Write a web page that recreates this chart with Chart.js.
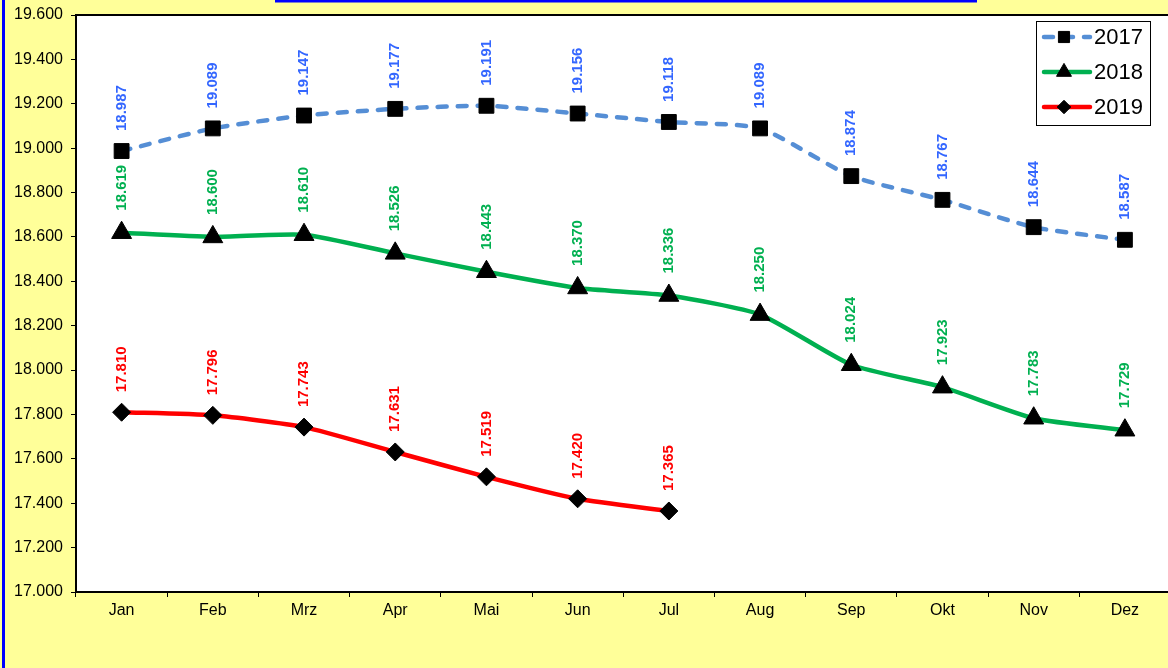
<!DOCTYPE html>
<html>
<head>
<meta charset="utf-8">
<script src="https://cdn.jsdelivr.net/npm/chart.js@4.4.1/dist/chart.umd.min.js"></script>
<style>
  html, body { margin: 0; padding: 0; background: #FFFF99; overflow: hidden; }
  #wrap { width: 1168px; height: 668px; overflow: hidden; position: relative; }
</style>
</head>
<body>
<div id="wrap">
  <canvas id="line-chart" width="1183" height="668"></canvas>
</div>
<script>
// Chart data
var months = ["Jan", "Feb", "Mrz", "Apr", "Mai", "Jun", "Jul", "Aug", "Sep", "Okt", "Nov", "Dez"];
var values2017 = [18.987, 19.089, 19.147, 19.177, 19.191, 19.156, 19.118, 19.089, 18.874, 18.767, 18.644, 18.587];
var values2018 = [18.619, 18.600, 18.610, 18.526, 18.443, 18.370, 18.336, 18.250, 18.024, 17.923, 17.783, 17.729];
var values2019 = [17.810, 17.796, 17.743, 17.631, 17.519, 17.420, 17.365, null, null, null, null, null];
var yMin = 17.0;
var yMax = 19.6;
var yStep = 0.2;

var FONT = "Arial, 'Liberation Sans', sans-serif";

// background, plot frame and page decoration
var framePlugin = {
    id: 'frame',
    beforeDraw: function(chart) {
        var ctx = chart.ctx, a = chart.chartArea;
        ctx.save();
        ctx.fillStyle = "#FFFF99";
        ctx.fillRect(0, 0, chart.width, chart.height);
        ctx.fillStyle = "#FFFFFF";
        ctx.fillRect(a.left, a.top, a.right - a.left, a.bottom - a.top);
        ctx.restore();
    },
    afterDraw: function(chart) {
        var ctx = chart.ctx, a = chart.chartArea;
        ctx.save();
        ctx.strokeStyle = "#000";
        ctx.lineWidth = 2;
        ctx.beginPath();
        ctx.moveTo(a.left, a.top);
        ctx.lineTo(a.right, a.top);
        ctx.lineTo(a.right, a.bottom);
        ctx.stroke();
        // blue edges of the surrounding boxes
        ctx.fillStyle = "#0000FF";
        ctx.fillRect(2, 0, 3, chart.height);
        ctx.fillRect(275, 0, 702, 2.5);
        ctx.restore();
    }
};

// rotated value labels above the points
var labelPlugin = {
    id: 'valueLabels',
    afterDatasetsDraw: function(chart) {
        var ctx = chart.ctx;
        ctx.save();
        ctx.font = "bold 15px " + FONT;
        ctx.textAlign = "left";
        ctx.textBaseline = "middle";
        chart.data.datasets.forEach(function(ds, i) {
            var meta = chart.getDatasetMeta(i);
            meta.data.forEach(function(pt, j) {
                var v = ds.data[j];
                if (v === null || v === undefined) return;
                ctx.save();
                ctx.translate(pt.x, pt.y - ds.labelOffset);
                ctx.rotate(-Math.PI / 2);
                ctx.fillStyle = ds.labelColor;
                ctx.fillText(v.toFixed(3), 0, 0);
                ctx.restore();
            });
        });
        ctx.restore();
    }
};

// legend box in the top right corner of the plot
var legendPlugin = {
    id: 'boxLegend',
    afterDraw: function(chart) {
        var ctx = chart.ctx;
        var left = 1036, top = 21;
        var right = left + 114, bottom = top + 104;
        ctx.save();
        ctx.fillStyle = "#fff";
        ctx.fillRect(left, top, right - left, bottom - top);
        ctx.strokeStyle = "#000";
        ctx.lineWidth = 1;
        ctx.strokeRect(left + 0.5, top + 0.5, right - left, bottom - top);
        chart.data.datasets.forEach(function(ds, i) {
            var y = top + 16 + i * 35;
            ctx.save();
            ctx.strokeStyle = ds.borderColor;
            ctx.lineWidth = ds.borderWidth;
            ctx.lineCap = "round";
            ctx.setLineDash(ds.borderDash || []);
            ctx.beginPath();
            ctx.moveTo(left + 8, y);
            ctx.lineTo(left + 54, y);
            ctx.stroke();
            ctx.restore();
            ctx.fillStyle = "#000";
            ctx.strokeStyle = "#000";
            Chart.helpers.drawPoint(ctx, {
                pointStyle: ds.pointStyle,
                radius: ds.pointRadius * 0.75,
                rotation: 0,
                borderWidth: 1
            }, left + 28, y);
            ctx.fillStyle = "#000";
            ctx.font = "22px " + FONT;
            ctx.textAlign = "left";
            ctx.textBaseline = "middle";
            ctx.fillText(ds.label, left + 58, y + 1);
        });
        ctx.restore();
    }
};

var chartData = {
    labels: months,
    datasets: [{
        label: "2017",
        data: values2017,
        borderColor: "#558ED5",
        borderWidth: 4.5,
        borderDash: [9, 11],
        borderCapStyle: "round",
        pointStyle: "rect",
        pointRadius: 10.5,
        pointBackgroundColor: "#000",
        pointBorderColor: "#000",
        pointBorderWidth: 1,
        labelColor: "#3366FF",
        labelOffset: 20
    }, {
        label: "2018",
        data: values2018,
        borderColor: "#00B050",
        borderWidth: 4.5,
        pointStyle: "triangle",
        pointRadius: 11.5,
        pointBackgroundColor: "#000",
        pointBorderColor: "#000",
        pointBorderWidth: 1,
        labelColor: "#00B050",
        labelOffset: 22
    }, {
        label: "2019",
        data: values2019,
        borderColor: "#FF0000",
        borderWidth: 4.5,
        pointStyle: "rectRot",
        pointRadius: 9,
        pointBackgroundColor: "#000",
        pointBorderColor: "#000",
        pointBorderWidth: 1,
        labelColor: "#FF0000",
        labelOffset: 20
    }]
};

var chartOptions = {
    responsive: false,
    animation: false,
    layout: { padding: { top: 15, right: 0, left: 0, bottom: 0 } },
    elements: { line: { tension: 0.2 } },
    plugins: {
        legend: { display: false },
        title: { display: false },
        tooltip: { enabled: false }
    },
    scales: {
        x: {
            offset: true,
            grid: { display: true, drawOnChartArea: false, offset: true, tickLength: 5, color: "#000", lineWidth: 1 },
            border: { display: true, color: "#000", width: 2 },
            ticks: { color: "#000", font: { family: FONT, size: 16 }, padding: 4, maxRotation: 0 },
            afterFit: function(scale) { scale.height = 76; }
        },
        y: {
            min: yMin,
            max: yMax,
            grid: { display: true, drawOnChartArea: false, tickLength: 5, color: "#000", lineWidth: 1 },
            border: { display: true, color: "#000", width: 2 },
            ticks: {
                stepSize: yStep,
                color: "#000",
                font: { family: FONT, size: 16 },
                padding: 8,
                callback: function(v) { return Number(v).toFixed(3); }
            },
            afterFit: function(scale) {
                scale.width = 76;
                scale.paddingTop = 0;
                scale.paddingBottom = 0;
            }
        }
    }
};

var ctx = document.getElementById("line-chart");
var lineChart = new Chart(ctx, {
    type: 'line',
    data: chartData,
    options: chartOptions,
    plugins: [framePlugin, labelPlugin, legendPlugin]
});
</script>
</body>
</html>
